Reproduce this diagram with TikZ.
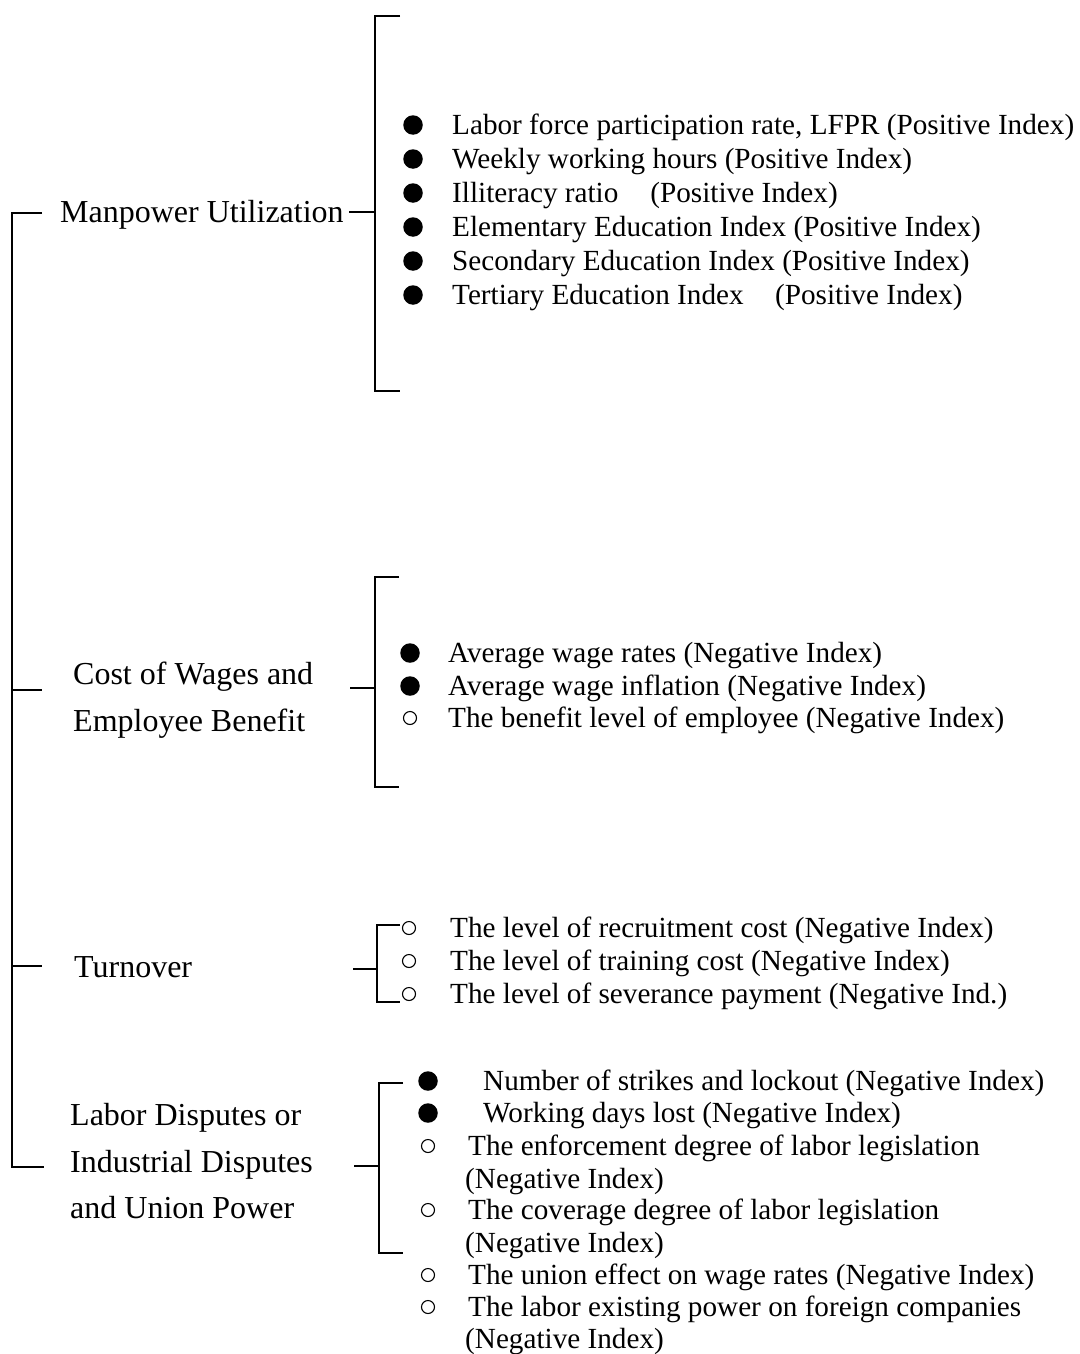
\documentclass[tikz,border=0pt]{standalone}
\usepackage{fontspec}
\setmainfont{Liberation Serif}
\begin{document}
\begin{tikzpicture}[x=1pt,y=-1pt,
  ln/.style={line width=1.8pt},
  cat/.style={anchor=base west,inner sep=0pt,font=\fontsize{32}{38}\selectfont},
  itm/.style={anchor=base west,inner sep=0pt,font=\fontsize{29.2}{34}\selectfont},
  fbul/.style={circle,fill=black,inner sep=0pt,minimum size=19.5pt},
  obul/.style={circle,draw=black,line width=1.1pt,inner sep=0pt,minimum size=13pt}]
\useasboundingbox (0,0) rectangle (1079,1354);

% ---- trunk
\coordinate (tA) at (12,213);
\coordinate (tB) at (12,690);
\coordinate (tC) at (12,966);
\coordinate (tD) at (12,1167);
\coordinate (tA2) at (42,213);
\coordinate (tB2) at (42,690);
\coordinate (tC2) at (42,966);
\coordinate (tD2) at (44,1167);
\draw[ln] (tA2) -- (tA) -- (tD) -- (tD2);
\draw[ln] (tB) -- (tB2);
\draw[ln] (tC) -- (tC2);

% ---- category labels
\node[cat] (catA) at (60,222.5) {Manpower Utilization};
\node[cat] (catB1) at (73,684) {Cost of Wages and};
\node[cat] (catB2) at (73,731) {Employee Benefit};
\node[cat] (catC) at (74,977) {Turnover};
\node[cat] (catD1) at (70,1125) {Labor Disputes or};
\node[cat] (catD2) at (70,1172) {Industrial Disputes};
\node[cat] (catD3) at (70,1218) {and Union Power};

% ---- bracket A
\coordinate (aL) at (349,212);
\coordinate (aM) at (375,212);
\coordinate (aT) at (375,16);
\coordinate (aB) at (375,391);
\coordinate (aT2) at (400,16);
\coordinate (aB2) at (400,391);
\draw[ln] (aT2) -- (aT) -- (aB) -- (aB2);
\draw[ln] (aL) -- (aM);

% ---- bracket B
\coordinate (bL) at (350,688);
\coordinate (bM) at (375,688);
\coordinate (bT) at (375,577);
\coordinate (bB) at (375,787);
\coordinate (bT2) at (399,577);
\coordinate (bB2) at (399,787);
\draw[ln] (bT2) -- (bT) -- (bB) -- (bB2);
\draw[ln] (bL) -- (bM);

% ---- bracket C
\coordinate (cL) at (353,969);
\coordinate (cM) at (377,969);
\coordinate (cT) at (377,925);
\coordinate (cB) at (377,1002);
\coordinate (cT2) at (400,925);
\coordinate (cB2) at (400,1002);
\draw[ln] (cT2) -- (cT) -- (cB) -- (cB2);
\draw[ln] (cL) -- (cM);

% ---- bracket D
\coordinate (dL) at (354,1166);
\coordinate (dM) at (379,1166);
\coordinate (dT) at (379,1083);
\coordinate (dB) at (379,1253);
\coordinate (dT2) at (403,1083);
\coordinate (dB2) at (403,1253);
\draw[ln] (dT2) -- (dT) -- (dB) -- (dB2);
\draw[ln] (dL) -- (dM);

% ---- items A
\node[fbul] (a1b) at (413,125) {};
\node[fbul] (a2b) at (413,159) {};
\node[fbul] (a3b) at (413,193) {};
\node[fbul] (a4b) at (413,227) {};
\node[fbul] (a5b) at (413,261) {};
\node[fbul] (a6b) at (413,295) {};
\node[itm] (a1) at (452,134) {Labor force participation rate, LFPR (Positive Index)};
\node[itm] (a2) at (452,168) {Weekly working hours (Positive Index)};
\node[itm] (a3) at (452,202) {Illiteracy ratio\hspace{32pt}(Positive Index)};
\node[itm] (a4) at (452,236) {Elementary Education Index (Positive Index)};
\node[itm] (a5) at (452,270) {Secondary Education Index (Positive Index)};
\node[itm] (a6) at (452,304) {Tertiary Education Index\hspace{31.5pt}(Positive Index)};

% ---- items B
\node[fbul] (b1b) at (410,653) {};
\node[fbul] (b2b) at (410,686) {};
\node[obul] (b3b) at (410,718) {};
\node[itm] (b1) at (448,662) {Average wage rates (Negative Index)};
\node[itm] (b2) at (448,695) {Average wage inflation (Negative Index)};
\node[itm] (b3) at (448,727) {The benefit level of employee (Negative Index)};

% ---- items C
\node[obul] (c1b) at (409,928) {};
\node[obul] (c2b) at (409,961) {};
\node[obul] (c3b) at (409,994) {};
\node[itm] (c1) at (450,937) {The level of recruitment cost (Negative Index)};
\node[itm] (c2) at (450,970) {The level of training cost (Negative Index)};
\node[itm] (c3) at (450,1003) {The level of severance payment (Negative Ind.)};

% ---- items D
\node[fbul] (d1b) at (428,1081) {};
\node[fbul] (d2b) at (428,1113) {};
\node[obul] (d3b) at (428,1146) {};
\node[obul] (d4b) at (428,1210) {};
\node[obul] (d5b) at (428,1275) {};
\node[obul] (d6b) at (428,1307) {};
\node[itm] (d1) at (483,1090) {Number of strikes and lockout (Negative Index)};
\node[itm] (d2) at (483,1122) {Working days lost (Negative Index)};
\node[itm] (d3) at (468,1155) {The enforcement degree of labor legislation};
\node[itm] (d3x) at (465,1188) {(Negative Index)};
\node[itm] (d4) at (468,1219) {The coverage degree of labor legislation};
\node[itm] (d4x) at (465,1252) {(Negative Index)};
\node[itm] (d5) at (468,1284) {The union effect on wage rates (Negative Index)};
\node[itm] (d6) at (468,1316) {The labor existing power on foreign companies};
\node[itm] (d6x) at (465,1348) {(Negative Index)};
\end{tikzpicture}
\end{document}
